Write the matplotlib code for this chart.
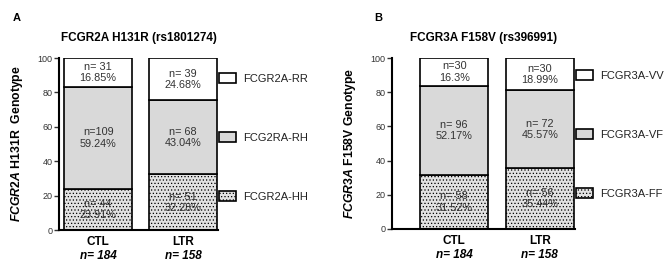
import matplotlib
matplotlib.use("Agg")
import matplotlib.pyplot as plt
from matplotlib.patches import Patch
import numpy as np

plt.rcParams['font.family'] = ['Liberation Sans', 'DejaVu Sans']
plt.rcParams['mathtext.fontset'] = 'custom'
plt.rcParams['mathtext.rm'] = 'Liberation Sans:bold'
plt.rcParams['mathtext.bf'] = 'Liberation Sans:bold'
plt.rcParams['mathtext.it'] = 'Liberation Sans:bold:italic'
plt.rcParams['hatch.color'] = '#b8b8b8'
plt.rcParams['hatch.linewidth'] = 0.5

groups = ["CTL", "LTR"]
group_n = ["n= 184", "n= 158"]

# Panel A: FCGR2A H131R
a_pct_HH = [23.91, 32.28]
a_pct_RH = [59.24, 43.04]
a_pct_RR = [16.85, 24.68]
a_n_HH = ["n= 44", "n= 51"]
a_n_RH = ["n=109", "n= 68"]
a_n_RR = ["n= 31", "n= 39"]
a_legend = ["FCGR2A-RR", "FCG2RA-RH", "FCGR2A-HH"]

# Panel B: FCGR3A F158V
b_pct_FF = [31.52, 35.44]
b_pct_VF = [52.17, 45.57]
b_pct_VV = [16.3, 18.99]
b_n_FF = ["n= 58", "n= 56"]
b_n_VF = ["n= 96", "n= 72"]
b_n_VV = ["n=30", "n=30"]
b_legend = ["FCGR3A-VV", "FCGR3A-VF", "FCGR3A-FF"]

W, H = 669, 262
fig = plt.figure(figsize=(W / 100, H / 100), dpi=100)

def px_axes(l, r, b, t):
    return fig.add_axes([l / W, 1 - b / H, (r - l) / W, (b - t) / H])

axA = px_axes(59, 218, 230, 58)
axB = px_axes(392, 575, 229, 58)

styles = [
    dict(facecolor='#e2e2e2', hatch='.....'),
    dict(facecolor='#d9d9d9'),
    dict(facecolor='white'),
]

def draw(ax, bottom_pct, mid_pct, top_pct, n_b, n_m, n_t, legend_labels,
         xlim, title, gene, rest, leg_y):
    x = np.arange(len(groups))
    layers = [bottom_pct, mid_pct, top_pct]
    labels = [n_b, n_m, n_t]
    base = np.zeros(len(groups))
    handles = []
    for vals, labs, st in zip(layers, labels, styles):
        vals = np.array(vals)
        ax.bar(x, vals, 0.8, bottom=base, edgecolor='black',
               linewidth=1.2, **st)
        for xi, v, b0, lab in zip(x, vals, base, labs):
            ax.text(xi, b0 + v / 2, f"{lab}\n{v:g}%", ha='center',
                    va='center', fontsize=7.8, color='#333333',
                    linespacing=1.15)
        handles.append(Patch(edgecolor='black', linewidth=1.2, **st))
        base = base + vals
    ax.set_xlim(*xlim)
    ax.set_ylim(0, 100)
    ax.set_yticks([0, 20, 40, 60, 80, 100])
    ax.tick_params(axis='y', labelsize=6.5, length=3.5, width=1, pad=1,
                   colors='#333333')
    ax.tick_params(axis='x', length=0, pad=4, labelsize=8.5)
    ax.set_xticks(x)
    ax.set_xticklabels(groups, fontweight='bold')
    for xi, nl in zip(x, group_n):
        ax.annotate(nl, xy=(xi, 0), xycoords=('data', 'axes fraction'),
                    xytext=(0, -14.5), textcoords='offset points',
                    ha='center', va='top', fontsize=8.5,
                    fontweight='bold', fontstyle='italic')
    for s in ['top', 'right']:
        ax.spines[s].set_visible(False)
    for s in ['left', 'bottom']:
        ax.spines[s].set_linewidth(1.5)
    ax.set_ylabel(r'$\mathit{' + gene + r'}$' + rest, fontsize=8.8,
                  fontweight='bold', labelpad=9)
    ax.set_title(title, fontsize=8.5, fontweight='bold', pad=12)
    leg = ax.legend(handles[::-1], legend_labels, loc='upper left',
                    bbox_to_anchor=(1.0, leg_y), frameon=False,
                    fontsize=8, handlelength=1.55, handleheight=0.95,
                    labelspacing=4.35, borderpad=0, borderaxespad=0.1,
                    handletextpad=0.6)
    for t in leg.get_texts():
        t.set_color('#222222')

draw(axA, a_pct_HH, a_pct_RH, a_pct_RR, a_n_HH, a_n_RH, a_n_RR, a_legend,
     (-0.46, 1.41), "FCGR2A H131R (rs1801274)", "FCGR2A", " H131R  Genotype",
     0.918)
draw(axB, b_pct_FF, b_pct_VF, b_pct_VV, b_n_FF, b_n_VF, b_n_VV, b_legend,
     (-0.725, 1.41), "FCGR3A F158V (rs396991)", "FCGR3A", " F158V Genotype",
     0.935)

fig.text(17 / W, 1 - 18 / H, "A", fontsize=8, fontweight='bold',
         ha='center', va='center')
fig.text(378 / W, 1 - 18 / H, "B", fontsize=8, fontweight='bold',
         ha='center', va='center')

fig.savefig("out.png", dpi=100)
